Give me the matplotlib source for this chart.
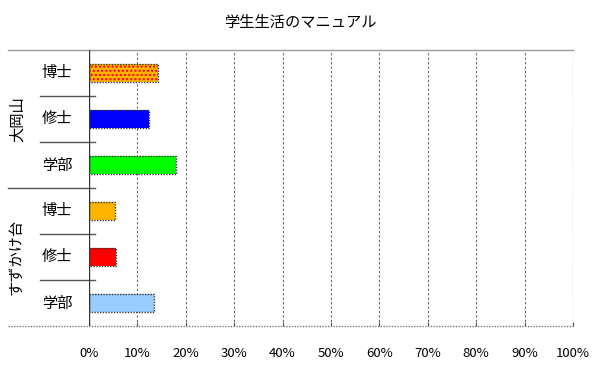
import matplotlib
matplotlib.use("Agg")
import matplotlib.pyplot as plt
import matplotlib.transforms as mtransforms
import numpy as np

plt.rcParams['font.family'] = ['Noto Sans CJK JP', 'DejaVu Sans']

TITLE = "学生生活のマニュアル"
groups = ["大岡山", "すずかけ台"]
degrees = ["博士", "修士", "学部"]
values = [14.2, 12.4, 18.0, 5.4, 5.6, 13.4]
colors = ["#FFB400", "#0000FF", "#00FF00", "#FFB400", "#FF0000", "#99CCFF"]
hatched = [True, False, False, False, False, False]
x_ticks = list(range(0, 101, 10))


def main() -> None:
    fig = plt.figure(figsize=(6, 3.72), dpi=100)
    ax = fig.add_axes([89 / 600, 1 - 326 / 372, 484 / 600, 276 / 372])

    n = len(values)
    ypos = np.arange(n)
    for y, v, c, h in zip(ypos, values, colors, hatched):
        if h:
            ax.barh(y, v, height=0.4, color=c, edgecolor="red", hatch="....", linewidth=0)
        else:
            ax.barh(y, v, height=0.4, color=c, linewidth=0)
        ax.barh(y, v, height=0.4, facecolor="none", edgecolor="#333333",
                linewidth=1, linestyle=(0, (1, 1)))

    ax.set_xlim(0, 100)
    ax.set_ylim(n - 0.5, -0.5)
    ax.set_yticks([])
    ax.set_xticks(x_ticks)
    ax.set_xticklabels([f"{t}%" for t in x_ticks], fontsize=9.5)
    ax.tick_params(axis="x", direction="in", length=3, pad=15, color="#555555")

    for t in x_ticks[1:-1]:
        ax.axvline(t, color="#666666", linestyle=(0, (2, 2)), linewidth=0.8, zorder=0)

    for s in ["top", "right", "bottom", "left"]:
        ax.spines[s].set_visible(False)
    ax.axvline(0, color="#333333", linewidth=1, zorder=3)
    ax.axvline(100, color="#999999", linestyle=(0, (1, 1)), linewidth=1)

    trans = mtransforms.blended_transform_factory(fig.transFigure, ax.transData)
    # top and bottom borders across the label area
    ax.plot([8 / 600, 573 / 600], [-0.5, -0.5], color="#999999", linewidth=1,
            transform=trans, clip_on=False)
    ax.plot([8 / 600, 573 / 600], [n - 0.5, n - 0.5], color="#777777", linewidth=1,
            linestyle=(0, (1, 1)), transform=trans, clip_on=False)

    per = len(degrees)
    for g, name in enumerate(groups):
        for k, d in enumerate(degrees):
            y = g * per + k
            ax.text(57 / 600, y, d, transform=trans, ha="center", va="center", fontsize=11)
            if k < per - 1:
                ax.plot([40 / 600, 95 / 600], [y + 0.5, y + 0.5], color="#555555",
                        linewidth=1, transform=trans, clip_on=False)
        mid = g * per + (per - 1) / 2
        ax.text(17 / 600, mid, name, transform=trans, ha="center", va="center",
                rotation=90, fontsize=11)
        if g < len(groups) - 1:
            yb = (g + 1) * per - 0.5
            ax.plot([8 / 600, 95 / 600], [yb, yb], color="#555555", linewidth=1,
                    transform=trans, clip_on=False)

    fig.text(0.5, 1 - 22 / 372, TITLE, ha="center", va="center", fontsize=11)

    fig.savefig("out.png", dpi=100)


if __name__ == "__main__":
    main()
